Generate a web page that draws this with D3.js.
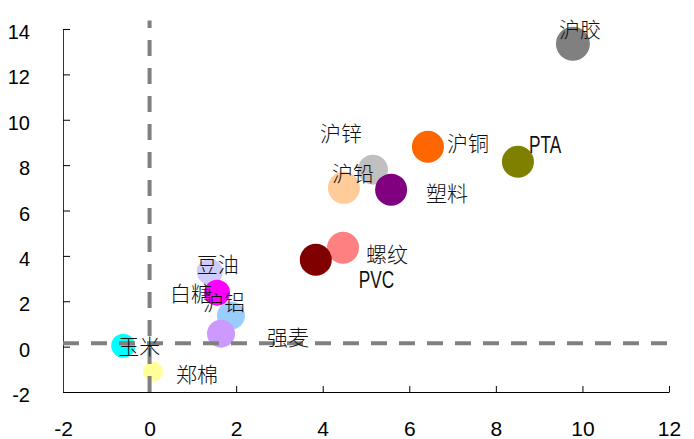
<!DOCTYPE html>
<html>
<head>
<meta charset="utf-8">
<script src="https://cdn.jsdelivr.net/npm/d3@7"></script>
<style>
  html, body { margin: 0; padding: 0; background: #fff; }
  svg { display: block; }
</style>
</head>
<body>
<svg id="chart" width="694" height="439"></svg>
<script>
// Commodity names and their (x, y) coordinates
const names = ["沪锌", "沪铅", "塑料", "沪铜", "PTA", "沪胶", "螺纹", "PVC",
               "豆油", "沪铝", "白糖", "强麦", "玉米", "郑棉"];
const xValues = [5.16, 4.49, 5.58, 6.43, 8.51, 9.78, 4.47, 3.84,
                 1.39, 1.88, 1.56, 1.65, -0.61, 0.08];
const yValues = [7.80, 7.00, 6.92, 8.81, 8.15, 13.35, 4.36, 3.83,
                 3.30, 1.37, 2.38, 0.57, 0.04, -1.10];

// Axis ticks
const xTicks = [-2, 0, 2, 4, 6, 8, 10, 12];
const yTicks = [-2, 0, 2, 4, 6, 8, 10, 12, 14];

// Reference lines
const vLineX = 0;
const hLineY = 0.15;

// Per-commodity drawing style: fill, radius, label offset (px) from the centre
const styles = {
  "沪锌": { fill: "#C0C0C0", r: 15, dx: -53, dy: -29 },
  "沪铅": { fill: "#FFCC99", r: 16, dx: -12, dy: -7 },
  "塑料": { fill: "#800080", r: 16, dx: 35, dy: 11 },
  "沪铜": { fill: "#FF6600", r: 16, dx: 19, dy: 4 },
  "PTA":  { fill: "#808000", r: 16, dx: 11, dy: -9 },
  "沪胶": { fill: "#808080", r: 17, dx: -14, dy: -7 },
  "螺纹": { fill: "#FF8080", r: 16, dx: 23, dy: 14 },
  "PVC":  { fill: "#800000", r: 16, dx: 43, dy: 28 },
  "豆油": { fill: "#CCCCFF", r: 13, dx: -13, dy: 0 },
  "沪铝": { fill: "#99CCFF", r: 14, dx: -28, dy: -6 },
  "白糖": { fill: "#FF00FF", r: 13, dx: -47, dy: 8 },
  "强麦": { fill: "#CC99FF", r: 14, dx: 46, dy: 11 },
  "玉米": { fill: "#00FFFF", r: 12, dx: -5, dy: 8 },
  "郑棉": { fill: "#FFFF99", r: 10, dx: 23, dy: 10 }
};

const svg = d3.select("#chart");
const x = d3.scaleLinear().domain([-2, 12]).range([63, 669]);
const y = d3.scaleLinear().domain([-2, 14]).range([392, 29]);

const tickFont = "'Liberation Sans', Arial, sans-serif";
const cjkFont = "'Noto Sans CJK SC', 'Noto Sans', sans-serif";
const fmt = d => String(d);   // plain hyphen for negatives

// Axes with inward ticks
const xAxis = svg.append("g")
  .attr("transform", `translate(0,${y(-2)})`)
  .call(d3.axisBottom(x).tickValues(xTicks).tickSizeInner(-6).tickSizeOuter(0)
    .tickPadding(0).tickFormat(fmt));
xAxis.select(".domain").attr("stroke", "#000");
xAxis.selectAll(".tick line").attr("stroke", "#000");
xAxis.selectAll(".tick text")
  .attr("y", 44).attr("dy", null)
  .attr("font-family", tickFont).attr("font-size", 21).attr("fill", "#000");

const yAxis = svg.append("g")
  .attr("transform", `translate(${x(-2)},0)`)
  .call(d3.axisLeft(y).tickValues(yTicks).tickSizeInner(-7).tickSizeOuter(0)
    .tickPadding(33).tickFormat(fmt));
yAxis.select(".domain").attr("stroke", "#333");
yAxis.selectAll(".tick line").attr("stroke", "#000");
yAxis.selectAll(".tick text")
  .attr("dy", "0.48em")
  .attr("font-family", tickFont).attr("font-size", 20).attr("fill", "#000");

// Bubbles
const data = names.map((n, i) => ({ name: n, x: xValues[i], y: yValues[i] }));
svg.append("g").selectAll("circle")
  .data(data).join("circle")
  .attr("cx", d => x(d.x))
  .attr("cy", d => y(d.y))
  .attr("r", d => styles[d.name].r)
  .attr("fill", d => styles[d.name].fill);

// Dashed reference lines
const dash = "16,12";
svg.append("line")
  .attr("x1", x(vLineX)).attr("x2", x(vLineX))
  .attr("y1", y(-2)).attr("y2", y(14.37))
  .attr("stroke", "#808080").attr("stroke-width", 4)
  .attr("stroke-dasharray", dash);
svg.append("line")
  .attr("x1", x(-2)).attr("x2", x(12))
  .attr("y1", y(hLineY)).attr("y2", y(hLineY))
  .attr("stroke", "#808080").attr("stroke-width", 4)
  .attr("stroke-dasharray", dash);

// Labels: Latin names are set in a condensed face
const isLatin = s => /^[A-Za-z]+$/.test(s);
const labels = svg.append("g").selectAll("text")
  .data(data).join("text")
  .attr("fill", "#111")
  .text(d => d.name);
labels.filter(d => isLatin(d.name))
  .attr("font-family", tickFont)
  .attr("font-size", 23)
  .attr("transform", d =>
    `translate(${x(d.x) + styles[d.name].dx},${y(d.y) + styles[d.name].dy}) scale(0.75,1)`);
labels.filter(d => !isLatin(d.name))
  .attr("x", d => x(d.x) + styles[d.name].dx)
  .attr("y", d => y(d.y) + styles[d.name].dy)
  .attr("font-family", cjkFont)
  .attr("font-size", 21)
  .attr("font-weight", 300);
</script>
</body>
</html>
